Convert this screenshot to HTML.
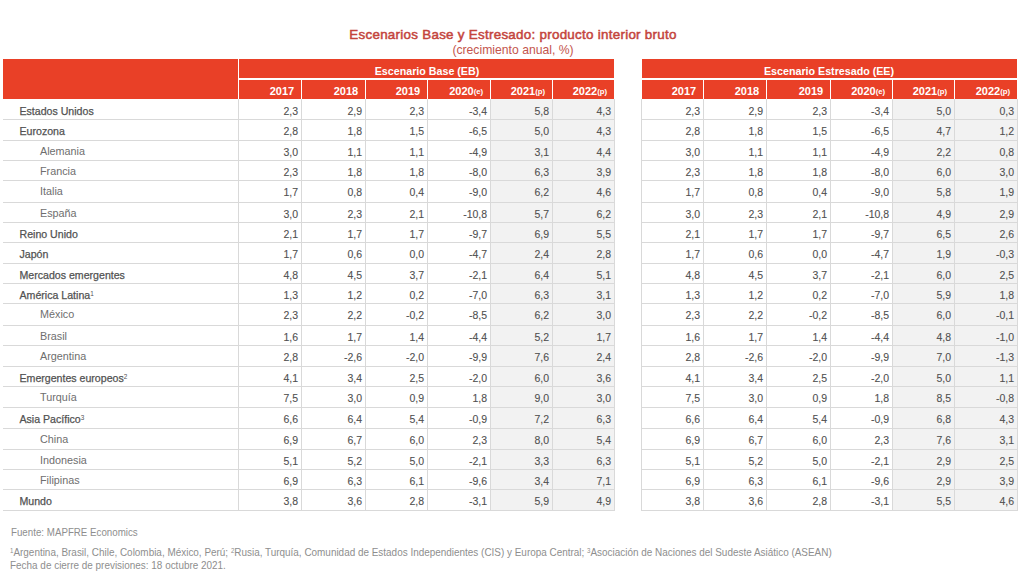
<!DOCTYPE html><html><head><meta charset="utf-8"><title>Escenarios Base y Estresado</title><style>
*{margin:0;padding:0;box-sizing:border-box}
html,body{width:1024px;height:585px;background:#fff;overflow:hidden;position:relative;font-family:"Liberation Sans",sans-serif}
.a{position:absolute}
.t{position:absolute;white-space:nowrap;line-height:0;height:0}
.h{position:absolute;background:#e94027}
.lh{position:absolute;background:#d9d9d9;height:1px}
.lv{position:absolute;background:#d9d9d9;width:1px}
.n{position:absolute;white-space:nowrap;line-height:0;height:0;width:60px;text-align:right;font-size:10.5px;color:#505050;letter-spacing:0px;-webkit-text-stroke:0.1px #505050}
.l0{position:absolute;white-space:nowrap;line-height:0;height:0;left:19.5px;font-size:10.6px;color:#525252;-webkit-text-stroke:0.25px #525252}
.l1{position:absolute;white-space:nowrap;line-height:0;height:0;left:40px;font-size:10.8px;color:#6e6e6e}
.hd{position:absolute;white-space:nowrap;line-height:0;height:0;width:100px;text-align:right;font-size:11px;font-weight:bold;color:#fff;top:91px}
.hd small{font-size:7.8px;font-weight:bold;position:relative;top:-1px}
.ht{position:absolute;white-space:nowrap;line-height:0;height:0;width:400px;text-align:center;font-size:10.7px;font-weight:bold;color:#fff;top:71px}
sup{font-size:6.4px;vertical-align:0;position:relative;top:-3.5px;font-weight:normal;-webkit-text-stroke:0}
.foot{position:absolute;white-space:nowrap;line-height:0;height:0;color:#8e8e8e;transform-origin:0 0}
.foot sup{font-size:6.5px;top:-3.5px}
</style></head><body>
<div class="t" style="left:1px;width:1024px;text-align:center;top:35px;font-size:13.4px;letter-spacing:0.27px;color:#c4443c;-webkit-text-stroke:0.5px #c4443c">Escenarios Base y Estresado: producto interior bruto</div>
<div class="t" style="left:1px;width:1024px;text-align:center;top:50px;font-size:12.2px;color:#c4554d">(crecimiento anual, %)</div>
<div class="h" style="left:3px;top:59px;width:235px;height:40px"></div>
<div class="h" style="left:239px;top:59px;width:375px;height:19px"></div>
<div class="h" style="left:239px;top:80px;width:62px;height:19px"></div>
<div class="h" style="left:302px;top:80px;width:63px;height:19px"></div>
<div class="h" style="left:366px;top:80px;width:61px;height:19px"></div>
<div class="h" style="left:428px;top:80px;width:62px;height:19px"></div>
<div class="h" style="left:491px;top:80px;width:61px;height:19px"></div>
<div class="h" style="left:553px;top:80px;width:61px;height:19px"></div>
<div class="ht" style="left:227.0px">Escenario Base (EB)</div>
<div class="hd" style="left:194.2px">2017</div>
<div class="hd" style="left:258.2px">2018</div>
<div class="hd" style="left:320.2px">2019</div>
<div class="hd" style="left:383.2px">2020<small>(e)</small></div>
<div class="hd" style="left:445.2px">2021<small>(p)</small></div>
<div class="hd" style="left:507.2px">2022<small>(p)</small></div>
<div class="a" style="background:#f2f2f2;left:491px;top:99px;width:123px;height:411px"></div>
<div class="lh" style="left:3px;top:119px;width:612px"></div>
<div class="lh" style="left:3px;top:140px;width:612px"></div>
<div class="lh" style="left:3px;top:160px;width:612px"></div>
<div class="lh" style="left:3px;top:180px;width:612px"></div>
<div class="lh" style="left:3px;top:202px;width:612px"></div>
<div class="lh" style="left:3px;top:222px;width:612px"></div>
<div class="lh" style="left:3px;top:242px;width:612px"></div>
<div class="lh" style="left:3px;top:263px;width:612px"></div>
<div class="lh" style="left:3px;top:283px;width:612px"></div>
<div class="lh" style="left:3px;top:303px;width:612px"></div>
<div class="lh" style="left:3px;top:325px;width:612px"></div>
<div class="lh" style="left:3px;top:345px;width:612px"></div>
<div class="lh" style="left:3px;top:366px;width:612px"></div>
<div class="lh" style="left:3px;top:386px;width:612px"></div>
<div class="lh" style="left:3px;top:407px;width:612px"></div>
<div class="lh" style="left:3px;top:428px;width:612px"></div>
<div class="lh" style="left:3px;top:449px;width:612px"></div>
<div class="lh" style="left:3px;top:469px;width:612px"></div>
<div class="lh" style="left:3px;top:489px;width:612px"></div>
<div class="lh" style="left:3px;top:510px;width:612px"></div>
<div class="lv" style="left:238px;top:99px;height:412px"></div>
<div class="lv" style="left:301px;top:99px;height:412px"></div>
<div class="lv" style="left:365px;top:99px;height:412px"></div>
<div class="lv" style="left:427px;top:99px;height:412px"></div>
<div class="lv" style="left:490px;top:99px;height:412px"></div>
<div class="lv" style="left:552px;top:99px;height:412px"></div>
<div class="lv" style="left:614px;top:99px;height:412px"></div>
<div class="n" style="left:238.1px;top:111px">2,3</div>
<div class="n" style="left:302.1px;top:111px">2,9</div>
<div class="n" style="left:364.1px;top:111px">2,3</div>
<div class="n" style="left:427.1px;top:111px">-3,4</div>
<div class="n" style="left:489.1px;top:111px">5,8</div>
<div class="n" style="left:551.1px;top:111px">4,3</div>
<div class="l0" style="top:111px">Estados Unidos</div>
<div class="n" style="left:238.1px;top:131px">2,8</div>
<div class="n" style="left:302.1px;top:131px">1,8</div>
<div class="n" style="left:364.1px;top:131px">1,5</div>
<div class="n" style="left:427.1px;top:131px">-6,5</div>
<div class="n" style="left:489.1px;top:131px">5,0</div>
<div class="n" style="left:551.1px;top:131px">4,3</div>
<div class="l0" style="top:131px">Eurozona</div>
<div class="n" style="left:238.1px;top:152px">3,0</div>
<div class="n" style="left:302.1px;top:152px">1,1</div>
<div class="n" style="left:364.1px;top:152px">1,1</div>
<div class="n" style="left:427.1px;top:152px">-4,9</div>
<div class="n" style="left:489.1px;top:152px">3,1</div>
<div class="n" style="left:551.1px;top:152px">4,4</div>
<div class="l1" style="top:151px">Alemania</div>
<div class="n" style="left:238.1px;top:172px">2,3</div>
<div class="n" style="left:302.1px;top:172px">1,8</div>
<div class="n" style="left:364.1px;top:172px">1,8</div>
<div class="n" style="left:427.1px;top:172px">-8,0</div>
<div class="n" style="left:489.1px;top:172px">6,3</div>
<div class="n" style="left:551.1px;top:172px">3,9</div>
<div class="l1" style="top:171px">Francia</div>
<div class="n" style="left:238.1px;top:192px">1,7</div>
<div class="n" style="left:302.1px;top:192px">0,8</div>
<div class="n" style="left:364.1px;top:192px">0,4</div>
<div class="n" style="left:427.1px;top:192px">-9,0</div>
<div class="n" style="left:489.1px;top:192px">6,2</div>
<div class="n" style="left:551.1px;top:192px">4,6</div>
<div class="l1" style="top:191px">Italia</div>
<div class="n" style="left:238.1px;top:214px">3,0</div>
<div class="n" style="left:302.1px;top:214px">2,3</div>
<div class="n" style="left:364.1px;top:214px">2,1</div>
<div class="n" style="left:427.1px;top:214px">-10,8</div>
<div class="n" style="left:489.1px;top:214px">5,7</div>
<div class="n" style="left:551.1px;top:214px">6,2</div>
<div class="l1" style="top:213px">España</div>
<div class="n" style="left:238.1px;top:234px">2,1</div>
<div class="n" style="left:302.1px;top:234px">1,7</div>
<div class="n" style="left:364.1px;top:234px">1,7</div>
<div class="n" style="left:427.1px;top:234px">-9,7</div>
<div class="n" style="left:489.1px;top:234px">6,9</div>
<div class="n" style="left:551.1px;top:234px">5,5</div>
<div class="l0" style="top:234px">Reino Unido</div>
<div class="n" style="left:238.1px;top:254px">1,7</div>
<div class="n" style="left:302.1px;top:254px">0,6</div>
<div class="n" style="left:364.1px;top:254px">0,0</div>
<div class="n" style="left:427.1px;top:254px">-4,7</div>
<div class="n" style="left:489.1px;top:254px">2,4</div>
<div class="n" style="left:551.1px;top:254px">2,8</div>
<div class="l0" style="top:254px">Japón</div>
<div class="n" style="left:238.1px;top:275px">4,8</div>
<div class="n" style="left:302.1px;top:275px">4,5</div>
<div class="n" style="left:364.1px;top:275px">3,7</div>
<div class="n" style="left:427.1px;top:275px">-2,1</div>
<div class="n" style="left:489.1px;top:275px">6,4</div>
<div class="n" style="left:551.1px;top:275px">5,1</div>
<div class="l0" style="top:275px">Mercados emergentes</div>
<div class="n" style="left:238.1px;top:295px">1,3</div>
<div class="n" style="left:302.1px;top:295px">1,2</div>
<div class="n" style="left:364.1px;top:295px">0,2</div>
<div class="n" style="left:427.1px;top:295px">-7,0</div>
<div class="n" style="left:489.1px;top:295px">6,3</div>
<div class="n" style="left:551.1px;top:295px">3,1</div>
<div class="l0" style="top:295px">América Latina<sup>1</sup></div>
<div class="n" style="left:238.1px;top:315px">2,3</div>
<div class="n" style="left:302.1px;top:315px">2,2</div>
<div class="n" style="left:364.1px;top:315px">-0,2</div>
<div class="n" style="left:427.1px;top:315px">-8,5</div>
<div class="n" style="left:489.1px;top:315px">6,2</div>
<div class="n" style="left:551.1px;top:315px">3,0</div>
<div class="l1" style="top:314px">México</div>
<div class="n" style="left:238.1px;top:337px">1,6</div>
<div class="n" style="left:302.1px;top:337px">1,7</div>
<div class="n" style="left:364.1px;top:337px">1,4</div>
<div class="n" style="left:427.1px;top:337px">-4,4</div>
<div class="n" style="left:489.1px;top:337px">5,2</div>
<div class="n" style="left:551.1px;top:337px">1,7</div>
<div class="l1" style="top:336px">Brasil</div>
<div class="n" style="left:238.1px;top:357px">2,8</div>
<div class="n" style="left:302.1px;top:357px">-2,6</div>
<div class="n" style="left:364.1px;top:357px">-2,0</div>
<div class="n" style="left:427.1px;top:357px">-9,9</div>
<div class="n" style="left:489.1px;top:357px">7,6</div>
<div class="n" style="left:551.1px;top:357px">2,4</div>
<div class="l1" style="top:356px">Argentina</div>
<div class="n" style="left:238.1px;top:378px">4,1</div>
<div class="n" style="left:302.1px;top:378px">3,4</div>
<div class="n" style="left:364.1px;top:378px">2,5</div>
<div class="n" style="left:427.1px;top:378px">-2,0</div>
<div class="n" style="left:489.1px;top:378px">6,0</div>
<div class="n" style="left:551.1px;top:378px">3,6</div>
<div class="l0" style="top:378px">Emergentes europeos<sup>2</sup></div>
<div class="n" style="left:238.1px;top:398px">7,5</div>
<div class="n" style="left:302.1px;top:398px">3,0</div>
<div class="n" style="left:364.1px;top:398px">0,9</div>
<div class="n" style="left:427.1px;top:398px">1,8</div>
<div class="n" style="left:489.1px;top:398px">9,0</div>
<div class="n" style="left:551.1px;top:398px">3,0</div>
<div class="l1" style="top:397px">Turquía</div>
<div class="n" style="left:238.1px;top:419px">6,6</div>
<div class="n" style="left:302.1px;top:419px">6,4</div>
<div class="n" style="left:364.1px;top:419px">5,4</div>
<div class="n" style="left:427.1px;top:419px">-0,9</div>
<div class="n" style="left:489.1px;top:419px">7,2</div>
<div class="n" style="left:551.1px;top:419px">6,3</div>
<div class="l0" style="top:419px">Asia Pacífico<sup>3</sup></div>
<div class="n" style="left:238.1px;top:440px">6,9</div>
<div class="n" style="left:302.1px;top:440px">6,7</div>
<div class="n" style="left:364.1px;top:440px">6,0</div>
<div class="n" style="left:427.1px;top:440px">2,3</div>
<div class="n" style="left:489.1px;top:440px">8,0</div>
<div class="n" style="left:551.1px;top:440px">5,4</div>
<div class="l1" style="top:439px">China</div>
<div class="n" style="left:238.1px;top:461px">5,1</div>
<div class="n" style="left:302.1px;top:461px">5,2</div>
<div class="n" style="left:364.1px;top:461px">5,0</div>
<div class="n" style="left:427.1px;top:461px">-2,1</div>
<div class="n" style="left:489.1px;top:461px">3,3</div>
<div class="n" style="left:551.1px;top:461px">6,3</div>
<div class="l1" style="top:460px">Indonesia</div>
<div class="n" style="left:238.1px;top:481px">6,9</div>
<div class="n" style="left:302.1px;top:481px">6,3</div>
<div class="n" style="left:364.1px;top:481px">6,1</div>
<div class="n" style="left:427.1px;top:481px">-9,6</div>
<div class="n" style="left:489.1px;top:481px">3,4</div>
<div class="n" style="left:551.1px;top:481px">7,1</div>
<div class="l1" style="top:480px">Filipinas</div>
<div class="n" style="left:238.1px;top:501px">3,8</div>
<div class="n" style="left:302.1px;top:501px">3,6</div>
<div class="n" style="left:364.1px;top:501px">2,8</div>
<div class="n" style="left:427.1px;top:501px">-3,1</div>
<div class="n" style="left:489.1px;top:501px">5,9</div>
<div class="n" style="left:551.1px;top:501px">4,9</div>
<div class="l0" style="top:501px">Mundo</div>
<div class="h" style="left:642px;top:59px;width:375px;height:19px"></div>
<div class="h" style="left:642px;top:80px;width:61px;height:19px"></div>
<div class="h" style="left:704px;top:80px;width:62px;height:19px"></div>
<div class="h" style="left:767px;top:80px;width:63px;height:19px"></div>
<div class="h" style="left:831px;top:80px;width:61px;height:19px"></div>
<div class="h" style="left:893px;top:80px;width:61px;height:19px"></div>
<div class="h" style="left:955px;top:80px;width:62px;height:19px"></div>
<div class="ht" style="left:629.0px">Escenario Estresado (EE)</div>
<div class="hd" style="left:596.2px">2017</div>
<div class="hd" style="left:659.2px">2018</div>
<div class="hd" style="left:723.2px">2019</div>
<div class="hd" style="left:785.2px">2020<small>(e)</small></div>
<div class="hd" style="left:847.2px">2021<small>(p)</small></div>
<div class="hd" style="left:910.2px">2022<small>(p)</small></div>
<div class="a" style="background:#f2f2f2;left:893px;top:99px;width:124px;height:411px"></div>
<div class="lh" style="left:641px;top:119px;width:377px"></div>
<div class="lh" style="left:641px;top:140px;width:377px"></div>
<div class="lh" style="left:641px;top:160px;width:377px"></div>
<div class="lh" style="left:641px;top:180px;width:377px"></div>
<div class="lh" style="left:641px;top:202px;width:377px"></div>
<div class="lh" style="left:641px;top:222px;width:377px"></div>
<div class="lh" style="left:641px;top:242px;width:377px"></div>
<div class="lh" style="left:641px;top:263px;width:377px"></div>
<div class="lh" style="left:641px;top:283px;width:377px"></div>
<div class="lh" style="left:641px;top:303px;width:377px"></div>
<div class="lh" style="left:641px;top:325px;width:377px"></div>
<div class="lh" style="left:641px;top:345px;width:377px"></div>
<div class="lh" style="left:641px;top:366px;width:377px"></div>
<div class="lh" style="left:641px;top:386px;width:377px"></div>
<div class="lh" style="left:641px;top:407px;width:377px"></div>
<div class="lh" style="left:641px;top:428px;width:377px"></div>
<div class="lh" style="left:641px;top:449px;width:377px"></div>
<div class="lh" style="left:641px;top:469px;width:377px"></div>
<div class="lh" style="left:641px;top:489px;width:377px"></div>
<div class="lh" style="left:641px;top:510px;width:377px"></div>
<div class="lv" style="left:641px;top:99px;height:412px"></div>
<div class="lv" style="left:703px;top:99px;height:412px"></div>
<div class="lv" style="left:766px;top:99px;height:412px"></div>
<div class="lv" style="left:830px;top:99px;height:412px"></div>
<div class="lv" style="left:892px;top:99px;height:412px"></div>
<div class="lv" style="left:954px;top:99px;height:412px"></div>
<div class="lv" style="left:1017px;top:99px;height:412px"></div>
<div class="n" style="left:640.1px;top:111px">2,3</div>
<div class="n" style="left:703.1px;top:111px">2,9</div>
<div class="n" style="left:767.1px;top:111px">2,3</div>
<div class="n" style="left:829.1px;top:111px">-3,4</div>
<div class="n" style="left:891.1px;top:111px">5,0</div>
<div class="n" style="left:954.1px;top:111px">0,3</div>
<div class="n" style="left:640.1px;top:131px">2,8</div>
<div class="n" style="left:703.1px;top:131px">1,8</div>
<div class="n" style="left:767.1px;top:131px">1,5</div>
<div class="n" style="left:829.1px;top:131px">-6,5</div>
<div class="n" style="left:891.1px;top:131px">4,7</div>
<div class="n" style="left:954.1px;top:131px">1,2</div>
<div class="n" style="left:640.1px;top:152px">3,0</div>
<div class="n" style="left:703.1px;top:152px">1,1</div>
<div class="n" style="left:767.1px;top:152px">1,1</div>
<div class="n" style="left:829.1px;top:152px">-4,9</div>
<div class="n" style="left:891.1px;top:152px">2,2</div>
<div class="n" style="left:954.1px;top:152px">0,8</div>
<div class="n" style="left:640.1px;top:172px">2,3</div>
<div class="n" style="left:703.1px;top:172px">1,8</div>
<div class="n" style="left:767.1px;top:172px">1,8</div>
<div class="n" style="left:829.1px;top:172px">-8,0</div>
<div class="n" style="left:891.1px;top:172px">6,0</div>
<div class="n" style="left:954.1px;top:172px">3,0</div>
<div class="n" style="left:640.1px;top:192px">1,7</div>
<div class="n" style="left:703.1px;top:192px">0,8</div>
<div class="n" style="left:767.1px;top:192px">0,4</div>
<div class="n" style="left:829.1px;top:192px">-9,0</div>
<div class="n" style="left:891.1px;top:192px">5,8</div>
<div class="n" style="left:954.1px;top:192px">1,9</div>
<div class="n" style="left:640.1px;top:214px">3,0</div>
<div class="n" style="left:703.1px;top:214px">2,3</div>
<div class="n" style="left:767.1px;top:214px">2,1</div>
<div class="n" style="left:829.1px;top:214px">-10,8</div>
<div class="n" style="left:891.1px;top:214px">4,9</div>
<div class="n" style="left:954.1px;top:214px">2,9</div>
<div class="n" style="left:640.1px;top:234px">2,1</div>
<div class="n" style="left:703.1px;top:234px">1,7</div>
<div class="n" style="left:767.1px;top:234px">1,7</div>
<div class="n" style="left:829.1px;top:234px">-9,7</div>
<div class="n" style="left:891.1px;top:234px">6,5</div>
<div class="n" style="left:954.1px;top:234px">2,6</div>
<div class="n" style="left:640.1px;top:254px">1,7</div>
<div class="n" style="left:703.1px;top:254px">0,6</div>
<div class="n" style="left:767.1px;top:254px">0,0</div>
<div class="n" style="left:829.1px;top:254px">-4,7</div>
<div class="n" style="left:891.1px;top:254px">1,9</div>
<div class="n" style="left:954.1px;top:254px">-0,3</div>
<div class="n" style="left:640.1px;top:275px">4,8</div>
<div class="n" style="left:703.1px;top:275px">4,5</div>
<div class="n" style="left:767.1px;top:275px">3,7</div>
<div class="n" style="left:829.1px;top:275px">-2,1</div>
<div class="n" style="left:891.1px;top:275px">6,0</div>
<div class="n" style="left:954.1px;top:275px">2,5</div>
<div class="n" style="left:640.1px;top:295px">1,3</div>
<div class="n" style="left:703.1px;top:295px">1,2</div>
<div class="n" style="left:767.1px;top:295px">0,2</div>
<div class="n" style="left:829.1px;top:295px">-7,0</div>
<div class="n" style="left:891.1px;top:295px">5,9</div>
<div class="n" style="left:954.1px;top:295px">1,8</div>
<div class="n" style="left:640.1px;top:315px">2,3</div>
<div class="n" style="left:703.1px;top:315px">2,2</div>
<div class="n" style="left:767.1px;top:315px">-0,2</div>
<div class="n" style="left:829.1px;top:315px">-8,5</div>
<div class="n" style="left:891.1px;top:315px">6,0</div>
<div class="n" style="left:954.1px;top:315px">-0,1</div>
<div class="n" style="left:640.1px;top:337px">1,6</div>
<div class="n" style="left:703.1px;top:337px">1,7</div>
<div class="n" style="left:767.1px;top:337px">1,4</div>
<div class="n" style="left:829.1px;top:337px">-4,4</div>
<div class="n" style="left:891.1px;top:337px">4,8</div>
<div class="n" style="left:954.1px;top:337px">-1,0</div>
<div class="n" style="left:640.1px;top:357px">2,8</div>
<div class="n" style="left:703.1px;top:357px">-2,6</div>
<div class="n" style="left:767.1px;top:357px">-2,0</div>
<div class="n" style="left:829.1px;top:357px">-9,9</div>
<div class="n" style="left:891.1px;top:357px">7,0</div>
<div class="n" style="left:954.1px;top:357px">-1,3</div>
<div class="n" style="left:640.1px;top:378px">4,1</div>
<div class="n" style="left:703.1px;top:378px">3,4</div>
<div class="n" style="left:767.1px;top:378px">2,5</div>
<div class="n" style="left:829.1px;top:378px">-2,0</div>
<div class="n" style="left:891.1px;top:378px">5,0</div>
<div class="n" style="left:954.1px;top:378px">1,1</div>
<div class="n" style="left:640.1px;top:398px">7,5</div>
<div class="n" style="left:703.1px;top:398px">3,0</div>
<div class="n" style="left:767.1px;top:398px">0,9</div>
<div class="n" style="left:829.1px;top:398px">1,8</div>
<div class="n" style="left:891.1px;top:398px">8,5</div>
<div class="n" style="left:954.1px;top:398px">-0,8</div>
<div class="n" style="left:640.1px;top:419px">6,6</div>
<div class="n" style="left:703.1px;top:419px">6,4</div>
<div class="n" style="left:767.1px;top:419px">5,4</div>
<div class="n" style="left:829.1px;top:419px">-0,9</div>
<div class="n" style="left:891.1px;top:419px">6,8</div>
<div class="n" style="left:954.1px;top:419px">4,3</div>
<div class="n" style="left:640.1px;top:440px">6,9</div>
<div class="n" style="left:703.1px;top:440px">6,7</div>
<div class="n" style="left:767.1px;top:440px">6,0</div>
<div class="n" style="left:829.1px;top:440px">2,3</div>
<div class="n" style="left:891.1px;top:440px">7,6</div>
<div class="n" style="left:954.1px;top:440px">3,1</div>
<div class="n" style="left:640.1px;top:461px">5,1</div>
<div class="n" style="left:703.1px;top:461px">5,2</div>
<div class="n" style="left:767.1px;top:461px">5,0</div>
<div class="n" style="left:829.1px;top:461px">-2,1</div>
<div class="n" style="left:891.1px;top:461px">2,9</div>
<div class="n" style="left:954.1px;top:461px">2,5</div>
<div class="n" style="left:640.1px;top:481px">6,9</div>
<div class="n" style="left:703.1px;top:481px">6,3</div>
<div class="n" style="left:767.1px;top:481px">6,1</div>
<div class="n" style="left:829.1px;top:481px">-9,6</div>
<div class="n" style="left:891.1px;top:481px">2,9</div>
<div class="n" style="left:954.1px;top:481px">3,9</div>
<div class="n" style="left:640.1px;top:501px">3,8</div>
<div class="n" style="left:703.1px;top:501px">3,6</div>
<div class="n" style="left:767.1px;top:501px">2,8</div>
<div class="n" style="left:829.1px;top:501px">-3,1</div>
<div class="n" style="left:891.1px;top:501px">5,5</div>
<div class="n" style="left:954.1px;top:501px">4,6</div>
<div class="foot" style="left:11px;font-size:10.6px;top:532px;transform:scaleX(0.92)">Fuente: MAPFRE Economics</div>
<div class="foot" style="left:10px;font-size:10.6px;top:552px;transform:scaleX(0.9375)"><sup>1</sup>Argentina, Brasil, Chile, Colombia, México, Perú; <sup>2</sup>Rusia, Turquía, Comunidad de Estados Independientes (CIS) y Europa Central; <sup>3</sup>Asociación de Naciones del Sudeste Asiático (ASEAN)</div>
<div class="foot" style="left:10px;font-size:10.6px;top:565px;transform:scaleX(0.9375)">Fecha de cierre de previsiones: 18 octubre 2021.</div>
</body></html>
